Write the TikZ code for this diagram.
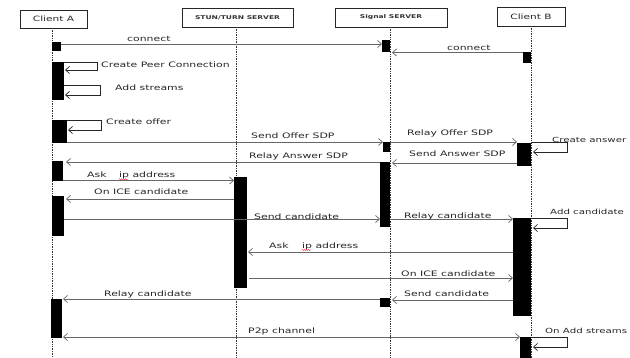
\documentclass[tikz,border=0pt]{standalone}
\usepackage{fontspec}
\setmainfont[FakeStretch=1.45]{DejaVu Sans}
\usetikzlibrary{arrows.meta,decorations.pathmorphing}
\begin{document}
\begin{tikzpicture}[x=1pt,y=-1pt,
  hdr/.style={draw=black!85,line width=0.8pt,fill=white,inner sep=0pt,outer sep=0pt,anchor=north west},
  hdrtxt/.style={font=\fontsize{7.3}{8}\selectfont,text=black!85},
  hdrsmall/.style={font=\fontsize{5.2}{6}\selectfont\bfseries,text=black!80},
  life/.style={draw=black!80,densely dotted,line width=0.7pt},
  act/.style={fill=black,draw=none,inner sep=0pt,outer sep=0pt,anchor=north west},
  msg/.style={draw=black!60,line width=0.8pt,-{Straight Barb[length=4pt,width=7pt,line width=0.7pt]}},
  selfmsg/.style={draw=black!85,line width=0.8pt,-{Straight Barb[length=4pt,width=7pt,line width=0.7pt]}},
  lbl/.style={font=\fontsize{7.5}{8}\selectfont,text=black!85,anchor=west,inner sep=0pt},
  lbledge/.style={lbl,font=\fontsize{7.05}{8}\selectfont},
  squig/.style={draw=red!80,line width=0.4pt,decorate,decoration={snake,amplitude=0.6pt,segment length=2pt}}
]
\useasboundingbox[fill=white] (0,0) rectangle (630,358);
\begin{scope}
\clip (0,0) rectangle (630,358);
% header boxes
\node[hdr,minimum width=67pt,minimum height=18pt] (A) at (20,10) {};
\node[hdrtxt] (At) at (A.center) {Client A};
\node[hdr,minimum width=111pt,minimum height=19pt] (S) at (182,8) {};
\node[hdrsmall] (St) at (S.center) {STUN/TURN SERVER};
\node[hdr,minimum width=112pt,minimum height=19pt] (G) at (335,8) {};
\node[hdrsmall] (Gt) at (G.center) {Signal SERVER};
\node[hdr,minimum width=68pt,minimum height=19pt] (B) at (497,7) {};
\node[hdrtxt] (Bt) at (B.center) {Client B};

% lifelines
\coordinate (Aend) at (52,358);
\coordinate (Send) at (236,358);
\coordinate (Gend) at (390,358);
\coordinate (Bend) at (531,358);
\draw[life] (A.south -| Aend) -- (Aend);
\draw[life] (S.south -| Send) -- (Send);
\draw[life] (G.south -| Gend) -- (Gend);
\draw[life] (B.south -| Bend) -- (Bend);

% activation bars
\node[act,minimum width=9pt,minimum height=9pt] (a1) at (52,42) {};
\node[act,minimum width=12pt,minimum height=38pt] (a2) at (52,62) {};
\node[act,minimum width=15pt,minimum height=23pt] (a3) at (52,120) {};
\node[act,minimum width=11pt,minimum height=20pt] (a4) at (52,161) {};
\node[act,minimum width=12pt,minimum height=40pt] (a5) at (52,196) {};
\node[act,minimum width=11pt,minimum height=39pt] (a6) at (51,299) {};
\node[act,minimum width=13pt,minimum height=111pt] (s1) at (234,177) {};
\node[act,minimum width=8pt,minimum height=12pt] (g1) at (382,40) {};
\node[act,minimum width=7pt,minimum height=10pt] (g2) at (383,142) {};
\node[act,minimum width=10pt,minimum height=65pt] (g3) at (380,162) {};
\node[act,minimum width=10pt,minimum height=9pt] (g4) at (380,298) {};
\node[act,minimum width=8pt,minimum height=11pt] (b1) at (523,52) {};
\node[act,minimum width=14pt,minimum height=23pt] (b2) at (517,143) {};
\node[act,minimum width=18pt,minimum height=98pt] (b3) at (513,218) {};
\node[act,minimum width=11pt,minimum height=21pt] (b4) at (520,337) {};

% messages
\draw[msg] (a1.east |- 0,44) -- (g1.west |- 0,44);
\node[lbl] (l1) at (127,38.5) {connect};
\draw[msg] (b1.west |- 0,52.5) -- ([xshift=2pt]g1.east |- 0,52.5);
\node[lbl] (l2) at (447,47.5) {connect};

\draw[selfmsg] (a2.east |- 0,62) -- (97,62) -- (97,70) -- ([xshift=1pt]a2.east |- 0,70);
\node[lbl] (l3) at (101,65) {Create Peer Connection};
\draw[selfmsg] (a2.east |- 0,85) -- (100,85) -- (100,95) -- ([xshift=1pt]a2.east |- 0,95);
\node[lbl] (l4) at (115,88) {Add streams};

\draw[selfmsg] (a3.east |- 0,120) -- (101,120) -- (101,130) -- ([xshift=1pt]a3.east |- 0,130);
\node[lbl] (l5) at (106,122) {Create offer};

\draw[msg] (a3.east |- 0,142) -- (g2.west |- 0,142);
\node[lbl] (l6) at (251,136) {Send Offer SDP};
\draw[msg] (g2.east |- 0,142) -- (b2.west |- 0,142);
\node[lbl] (l7) at (407,133.5) {Relay Offer SDP};

\draw[selfmsg] (b2.east |- 0,142) -- (567,142) -- (567,152) -- ([xshift=2pt]b2.east |- 0,152);
\node[lbledge] (l8) at (552,139.5) {Create answer};

\draw[msg] (b2.west |- 0,163) -- ([xshift=2pt]g3.east |- 0,163);
\node[lbl] (l9) at (409,154) {Send Answer SDP};
\draw[msg] (g3.west |- 0,162) -- ([xshift=3pt]a4.east |- 0,162);
\node[lbl] (l10) at (249,156) {Relay Answer SDP};

\draw[msg] (a4.east |- 0,180.5) -- (s1.west |- 0,180.5);
\node[lbl] (l11a) at (87,175) {Ask};
\node[lbl] (l11b) at (119,175) {ip address};
\draw[squig] (119,179.2) -- (128,179.2);

\draw[msg] (s1.west |- 0,199) -- ([xshift=2pt]a5.east |- 0,199);
\node[lbl] (l12) at (94,192) {On ICE candidate};

\draw[msg] (a5.east |- 0,219) -- (g3.west |- 0,219);
\node[lbl] (l13) at (254,216.5) {Send candidate};
\draw[msg] (g3.east |- 0,219) -- (b3.west |- 0,219);
\node[lbl] (l14) at (404,216) {Relay candidate};

\draw[selfmsg] (b3.east |- 0,218) -- (567,218) -- (567,228) -- ([xshift=2pt]b3.east |- 0,228);
\node[lbledge] (l15) at (550,212) {Add candidate};

\draw[msg] (b3.west |- 0,252) -- ([xshift=1pt]s1.east |- 0,252);
\node[lbl] (l16a) at (269,246) {Ask};
\node[lbl] (l16b) at (302,246) {ip address};
\draw[squig] (302,250) -- (311,250);

\draw[msg] ([xshift=2pt]s1.east |- 0,278) -- (b3.west |- 0,278);
\node[lbl] (l17) at (401,274) {On ICE candidate};

\draw[msg] (b3.west |- 0,300) -- ([xshift=2pt]g4.east |- 0,300);
\node[lbl] (l18) at (404,294) {Send candidate};
\draw[msg] (g4.west |- 0,299) -- ([xshift=1pt]a6.east |- 0,299);
\node[lbl] (l19) at (104,294) {Relay candidate};

\draw[msg,{Straight Barb[length=4pt,width=7pt,line width=0.7pt]}-{Straight Barb[length=4pt,width=7pt,line width=0.7pt]}] ([xshift=1pt]a6.east |- 0,337) -- (b4.west |- 0,337);
\node[lbl] (l20) at (248,331) {P2p channel};

\draw[selfmsg] (b4.east |- 0,337) -- (567,337) -- (567,347) -- ([xshift=2pt]b4.east |- 0,347);
\node[lbledge] (l21) at (545,331) {On Add streams};
\end{scope}
\end{tikzpicture}
\end{document}
